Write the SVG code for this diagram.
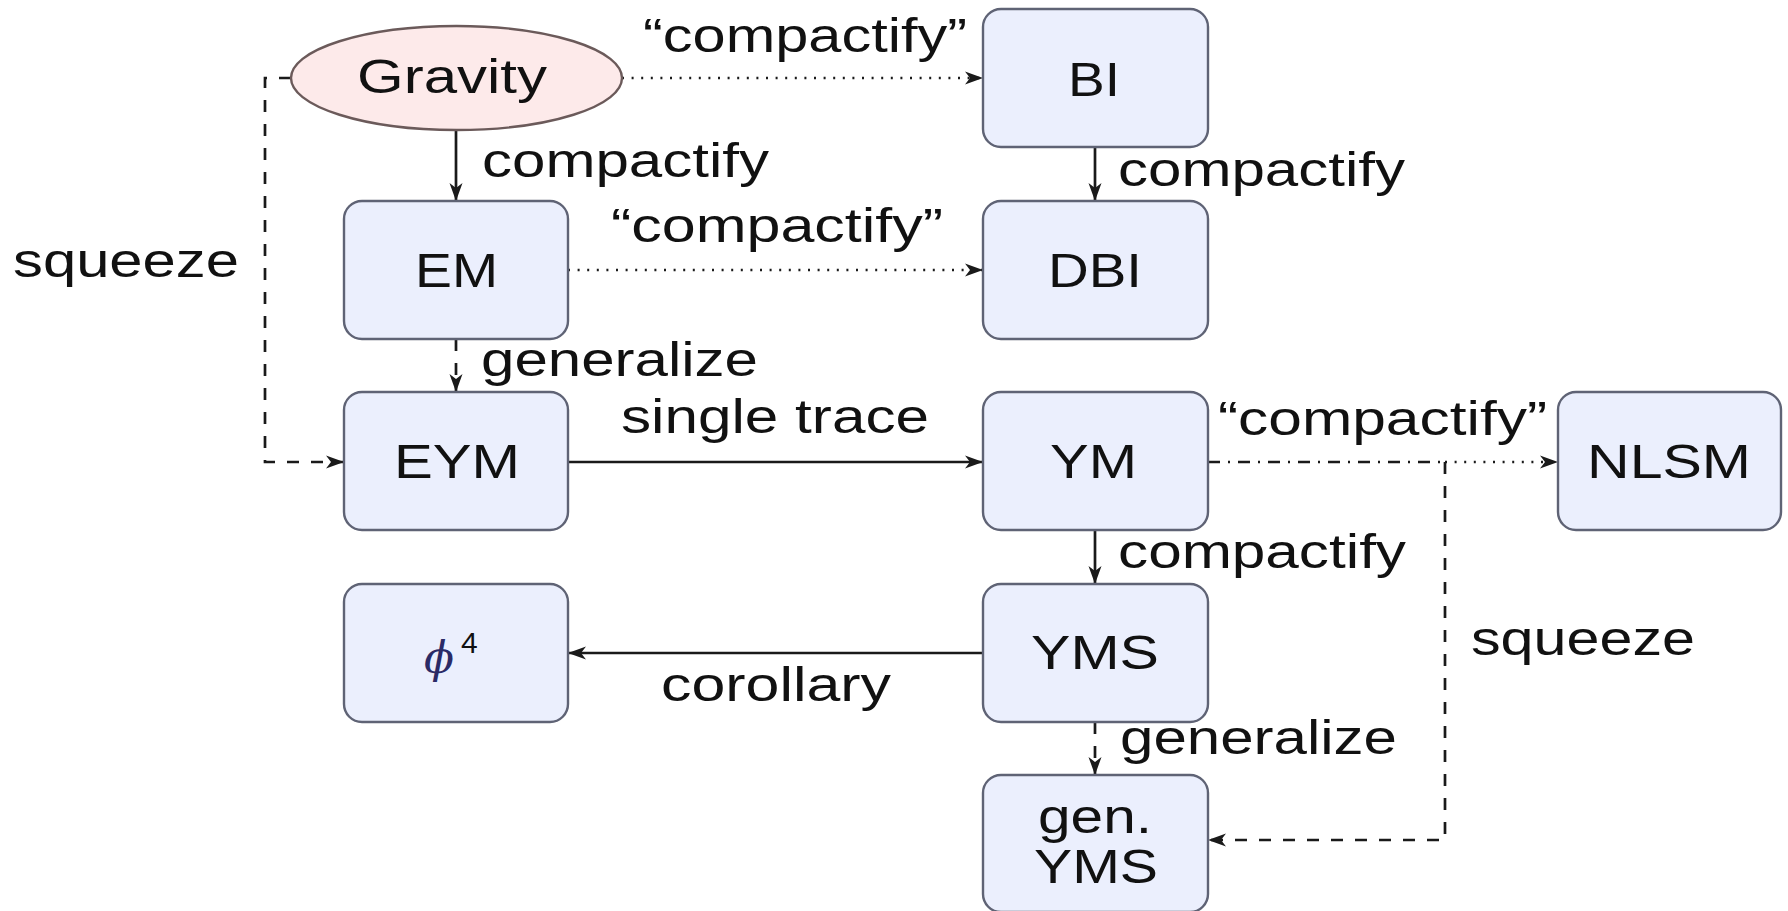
<svg xmlns="http://www.w3.org/2000/svg" width="1788" height="911" viewBox="0 0 1788 911">
<style>
  .box { fill: #ebeffd; stroke: #5f6375; stroke-width: 2.4; }
  .ell { fill: #fdeaea; stroke: #6b5a5a; stroke-width: 2.4; }
  .nt { font-family: "Liberation Sans", Arial, sans-serif; font-size: 49px; fill: #111; }
  .lb { font-family: "Liberation Sans", Arial, sans-serif; font-size: 48px; fill: #111; }
  .ln { fill: none; stroke: #1a1a1a; stroke-width: 2.7; }
  .dashed { stroke-dasharray: 12 12; }
  .dotted { stroke-dasharray: 2 7.6; }
  .dashdot { stroke-dasharray: 12 8 2 8; }
</style>
<defs>
  <marker id="arr" markerWidth="22" markerHeight="16" refX="18" refY="8" orient="auto" markerUnits="userSpaceOnUse">
    <path d="M0,1.5 L18,8 L0,14.5 L5,8 Z" fill="#1a1a1a"/>
  </marker>
</defs>

<g id="connectors">
  <path class="ln dotted" d="M622,78 H983" marker-end="url(#arr)"/>
  <path class="ln" d="M456,130 V201" marker-end="url(#arr)"/>
  <path class="ln" d="M1095,147 V201" marker-end="url(#arr)"/>
  <path class="ln dotted" d="M568,270 H983" marker-end="url(#arr)"/>
  <path class="ln dashed" d="M456,339 V392" marker-end="url(#arr)"/>
  <path class="ln dashed" d="M291,78 H265 V462 H344" marker-end="url(#arr)"/>
  <path class="ln" d="M568,462 H983" marker-end="url(#arr)"/>
  <path class="ln dashdot" d="M1208,462 H1445"/>
  <path class="ln dotted" d="M1445,462 H1558" marker-end="url(#arr)"/>
  <path class="ln dashed" d="M1445,462 V840 H1208" marker-end="url(#arr)"/>
  <path class="ln" d="M1095,530 V584" marker-end="url(#arr)"/>
  <path class="ln" d="M983,653 H568" marker-end="url(#arr)"/>
  <path class="ln dashed" d="M1095,722 V775" marker-end="url(#arr)"/>

  <text class="lb" x="643" y="52" textLength="324" lengthAdjust="spacingAndGlyphs">“compactify”</text>
  <text class="lb" x="482" y="177" textLength="287" lengthAdjust="spacingAndGlyphs">compactify</text>
  <text class="lb" x="1118" y="186" textLength="287" lengthAdjust="spacingAndGlyphs">compactify</text>
  <text class="lb" x="611" y="242" textLength="332" lengthAdjust="spacingAndGlyphs">“compactify”</text>
  <text class="lb" x="481" y="376" textLength="277" lengthAdjust="spacingAndGlyphs">generalize</text>
  <text class="lb" x="13" y="277" textLength="226" lengthAdjust="spacingAndGlyphs">squeeze</text>
  <text class="lb" x="621" y="433" textLength="308" lengthAdjust="spacingAndGlyphs">single trace</text>
  <text class="lb" x="1218" y="435" textLength="329" lengthAdjust="spacingAndGlyphs">“compactify”</text>
  <text class="lb" x="1471" y="655" textLength="224" lengthAdjust="spacingAndGlyphs">squeeze</text>
  <text class="lb" x="1118" y="568" textLength="288" lengthAdjust="spacingAndGlyphs">compactify</text>
  <text class="lb" x="661" y="701" textLength="230" lengthAdjust="spacingAndGlyphs">corollary</text>
  <text class="lb" x="1120" y="754" textLength="277" lengthAdjust="spacingAndGlyphs">generalize</text>
</g>

<g id="gravity">
  <ellipse class="ell" cx="456.5" cy="78" rx="165.5" ry="52"/>
  <text class="nt" x="357" y="93" textLength="190" lengthAdjust="spacingAndGlyphs">Gravity</text>
</g>
<g id="bi">
  <rect class="box" x="983" y="9" width="225" height="138" rx="18"/>
  <text class="nt" x="1068" y="96" textLength="52" lengthAdjust="spacingAndGlyphs">BI</text>
</g>
<g id="em">
  <rect class="box" x="344" y="201" width="224" height="138" rx="18"/>
  <text class="nt" x="415" y="287" textLength="83" lengthAdjust="spacingAndGlyphs">EM</text>
</g>
<g id="dbi">
  <rect class="box" x="983" y="201" width="225" height="138" rx="18"/>
  <text class="nt" x="1048" y="287" textLength="94" lengthAdjust="spacingAndGlyphs">DBI</text>
</g>
<g id="eym">
  <rect class="box" x="344" y="392" width="224" height="138" rx="18"/>
  <text class="nt" x="394" y="478" textLength="126" lengthAdjust="spacingAndGlyphs">EYM</text>
</g>
<g id="ym">
  <rect class="box" x="983" y="392" width="225" height="138" rx="18"/>
  <text class="nt" x="1050" y="478" textLength="87" lengthAdjust="spacingAndGlyphs">YM</text>
</g>
<g id="nlsm">
  <rect class="box" x="1558" y="392" width="223" height="138" rx="18"/>
  <text class="nt" x="1587" y="478" textLength="164" lengthAdjust="spacingAndGlyphs">NLSM</text>
</g>
<g id="phi4">
  <rect class="box" x="344" y="584" width="224" height="138" rx="18"/>
  <text x="424" y="673" font-family="'DejaVu Serif', 'Liberation Serif', serif" font-style="italic" font-size="44" fill="#2a2a66">ϕ</text>
  <text x="461" y="653" font-family="'Liberation Sans', Arial, sans-serif" font-size="30" fill="#111">4</text>
</g>
<g id="yms">
  <rect class="box" x="983" y="584" width="225" height="138" rx="18"/>
  <text class="nt" x="1031" y="669" textLength="128" lengthAdjust="spacingAndGlyphs">YMS</text>
</g>
<g id="genyms">
  <rect class="box" x="983" y="775" width="225" height="137" rx="18"/>
  <text class="nt" x="1038" y="833" textLength="114" lengthAdjust="spacingAndGlyphs">gen.</text>
  <text class="nt" x="1034" y="883" textLength="124" lengthAdjust="spacingAndGlyphs">YMS</text>
</g>
</svg>
